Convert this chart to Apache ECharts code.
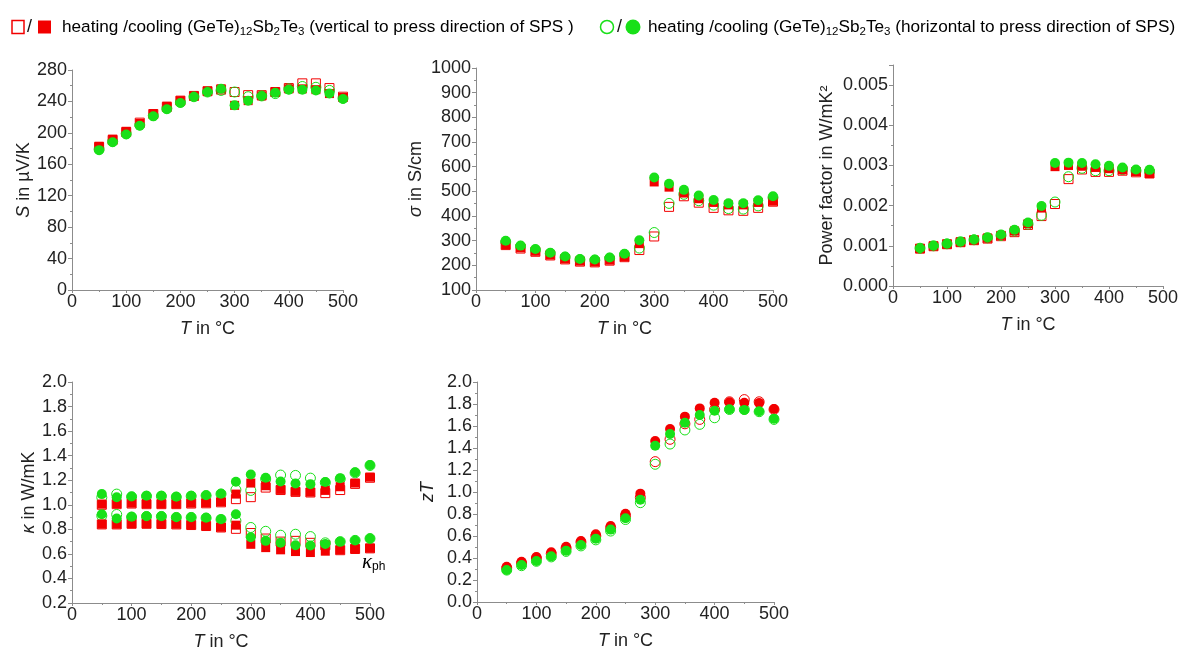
<!DOCTYPE html>
<html><head><meta charset="utf-8">
<script src="https://cdn.jsdelivr.net/npm/echarts@6/dist/echarts.min.js"></script>
<style>html,body{margin:0;padding:0;background:#fff}#c{width:1184px;height:653px}</style>
</head><body><div id="c"></div>
<script>
// Temperatures (°C)
const T_ALL = [50,75,100,125,150,175,200,225,250,275,300,325,350,375,400,425,450,475,500];
const T_PF  = [50,75,100,125,150,175,200,225,250,275,300,325,350,375,400,425,450,475];

// Seebeck coefficient S (µV/K)
const S_heatV = [182,191,201,213,224,233,241,247,253,255,252,248,248,252,257,263,263,257,246];
const S_coolV = [183,192,202,212,224,234,241,247,253,256,235,241,247,252,256,256,255,250,245];
const S_heatH = [179,189,199,210,222,231,239,246,252,254,252,246,247,250,256,259,258,254,244];
const S_coolH = [178,188,198,209,221,230,238,246,252,256,235,241,247,251,255,255,254,250,243];

// Electrical conductivity sigma (S/cm)
const sig_heatV = [282,268,255,240,224,215,212,219,233,262,317,437,480,454,433,423,421,433,458];
const sig_coolV = [284,271,257,242,226,217,214,221,235,288,538,517,493,470,455,445,445,455,460];
const sig_heatH = [295,277,262,248,233,223,221,229,243,270,333,451,488,462,444,430,428,441,475];
const sig_coolH = [300,280,266,251,236,226,224,232,247,302,556,531,506,483,465,452,452,464,480];

// Power factor (W/mK^2)
const PF_heatV = [0.00093,0.00099,0.00104,0.00109,0.00114,0.00118,0.00124,0.00134,0.00152,0.00174,0.00204,0.00266,0.00290,0.00284,0.00284,0.00287,0.00283,0.00280];
const PF_coolV = [0.00093,0.00099,0.00104,0.00109,0.00114,0.00119,0.00126,0.00137,0.00155,0.00194,0.00297,0.00300,0.00298,0.00295,0.00292,0.00289,0.00285,0.00280];
const PF_heatH = [0.00094,0.00100,0.00105,0.00110,0.00115,0.00120,0.00126,0.00137,0.00154,0.00176,0.00209,0.00272,0.00293,0.00287,0.00287,0.00290,0.00287,0.00285];
const PF_coolH = [0.00094,0.00100,0.00105,0.00110,0.00116,0.00121,0.00128,0.00140,0.00158,0.00199,0.00306,0.00307,0.00306,0.00303,0.00299,0.00295,0.00290,0.00289];

// Thermal conductivity kappa (W/mK), total
const k_heatV = [1.000,1.005,1.010,1.005,1.005,1.005,1.010,1.012,1.020,1.046,1.062,1.140,1.120,1.105,1.100,1.095,1.120,1.170,1.220];
const k_coolV = [1.005,1.010,1.013,1.010,1.008,1.008,1.013,1.016,1.024,1.087,1.177,1.155,1.125,1.109,1.103,1.117,1.147,1.177,1.225];
const k_heatH = [1.060,1.087,1.065,1.070,1.070,1.063,1.070,1.075,1.088,1.122,1.117,1.210,1.242,1.239,1.217,1.180,1.210,1.260,1.320];
const k_coolH = [1.087,1.062,1.068,1.073,1.073,1.065,1.073,1.078,1.090,1.188,1.247,1.220,1.190,1.174,1.168,1.185,1.217,1.264,1.323];
// lattice (phonon) part kappa_ph
const kph_heatV = [0.840,0.840,0.845,0.845,0.843,0.840,0.835,0.827,0.815,0.804,0.770,0.725,0.700,0.706,0.690,0.670,0.630,0.640,0.645];
const kph_coolV = [0.842,0.842,0.847,0.847,0.845,0.842,0.837,0.829,0.817,0.834,0.678,0.651,0.633,0.619,0.611,0.622,0.633,0.641,0.646];
const kph_heatH = [0.910,0.921,0.900,0.905,0.905,0.897,0.897,0.892,0.880,0.870,0.815,0.784,0.752,0.760,0.741,0.690,0.700,0.710,0.725];
const kph_coolH = [0.923,0.888,0.902,0.907,0.907,0.899,0.899,0.894,0.883,0.923,0.736,0.706,0.690,0.670,0.668,0.681,0.698,0.709,0.725];

// Figure of merit zT
const zT_heatV = [0.310,0.355,0.400,0.440,0.490,0.545,0.600,0.675,0.785,0.950,1.276,1.479,1.620,1.660,1.750,1.820,1.840,1.820,1.750];
const zT_coolV = [0.321,0.366,0.409,0.452,0.503,0.555,0.615,0.690,0.803,0.985,1.464,1.573,1.685,1.760,1.812,1.815,1.812,1.810,1.755];
const zT_heatH = [0.290,0.330,0.370,0.410,0.460,0.510,0.565,0.645,0.750,0.903,1.252,1.436,1.564,1.615,1.675,1.750,1.750,1.730,1.660];
const zT_coolH = [0.291,0.336,0.373,0.415,0.467,0.518,0.576,0.658,0.761,0.930,1.421,1.527,1.630,1.700,1.739,1.752,1.745,1.734,1.667];

const RED = '#f20000', GREEN = '#18e018';
const FONT = "'Liberation Sans', Arial, sans-serif";
const AX = '#8c8c8c', TXT = '#222';

const grids = [
  {left:72, top:70, width:271, height:220},
  {left:476, top:68, width:297, height:222},
  {left:893, top:65, width:270, height:221},
  {left:72, top:382, width:298, height:221},
  {left:477, top:382, width:297, height:220}
].map(g => Object.assign({containLabel:false, outerBoundsMode:'none'}, g));

const richName = {i:{fontStyle:'italic', fontSize:18, fontFamily:FONT, color:TXT}};
function xAx(i){
  return {type:'value', gridIndex:i, min:0, max:500, interval:100,
    name:'{i|T} in °C', nameLocation:'middle', nameGap:30,
    nameTextStyle:{fontSize:18, fontFamily:FONT, color:TXT, rich:richName},
    axisLine:{onZero:false, lineStyle:{color:AX, width:1}},
    axisTick:{show:true, inside:false, length:3, lineStyle:{color:AX}},
    minorTick:{show:true, splitNumber:2, length:2, lineStyle:{color:AX}},
    axisLabel:{fontSize:18, fontFamily:FONT, color:TXT, margin:3},
    splitLine:{show:false}};
}
function yAx(i, min, max, interval, name, gap, fmt){
  return {type:'value', gridIndex:i, min:min, max:max, interval:interval,
    name:name, nameLocation:'middle', nameGap:gap,
    nameTextStyle:{fontSize:18, fontFamily:FONT, color:TXT, rich:richName},
    axisLine:{onZero:false, lineStyle:{color:AX, width:1}},
    axisTick:{show:true, inside:false, length:4, lineStyle:{color:AX}},
    minorTick:{show:true, splitNumber:2, length:2, lineStyle:{color:AX}},
    axisLabel:{fontSize:18, fontFamily:FONT, color:TXT, margin:5, formatter:fmt, showMaxLabel: max === 0.0055 ? false : null},
    splitLine:{show:false}};
}

function sc(g, xs, ys, symbol, color, filled, size, z){
  return {type:'scatter', xAxisIndex:g, yAxisIndex:g, silent:true, z:z,
    data: xs.map((x,k)=>[x, ys[k]]), symbol:symbol, symbolSize:size,
    itemStyle: filled ? {color:color, opacity:1} : {color:'rgba(255,255,255,0)', borderColor:color, borderWidth:1, opacity:1}};
}
const SQ = 9, CI = 10;
function quad(g, xs, hv, cv, hh, ch, redSym){
  return [
    sc(g, xs, hv, redSym, RED, false, redSym==='rect'?SQ:CI, 2),
    sc(g, xs, hh, 'circle', GREEN, false, CI, 3),
    sc(g, xs, cv, redSym, RED, true, redSym==='rect'?SQ:CI, 4),
    sc(g, xs, ch, 'circle', GREEN, true, CI, 5)
  ];
}

const series = [].concat(
  quad(0, T_ALL, S_heatV, S_coolV, S_heatH, S_coolH, 'rect'),
  quad(1, T_ALL, sig_heatV, sig_coolV, sig_heatH, sig_coolH, 'rect'),
  quad(2, T_PF, PF_heatV, PF_coolV, PF_heatH, PF_coolH, 'rect'),
  quad(3, T_ALL, k_heatV, k_coolV, k_heatH, k_coolH, 'rect'),
  quad(3, T_ALL, kph_heatV, kph_coolV, kph_heatH, kph_coolH, 'rect'),
  quad(4, T_ALL, zT_heatV, zT_coolV, zT_heatH, zT_coolH, 'circle')
);

const legRich = {
  a:{fontSize:17.2, fontFamily:FONT, color:'#111', lineHeight:22, verticalAlign:'middle'},
  s:{fontSize:11.5, fontFamily:FONT, color:'#111', lineHeight:12, verticalAlign:'bottom'}
};
const leg1 = '{a|heating /cooling (GeTe)}{s|12}{a|Sb}{s|2}{a|Te}{s|3}{a| (vertical to press direction of SPS )}';
const leg2 = '{a|heating /cooling (GeTe)}{s|12}{a|Sb}{s|2}{a|Te}{s|3}{a| (horizontal to press direction of SPS)}';

const graphic = [
  {type:'rect', shape:{x:12, y:20.5, width:12, height:13}, style:{fill:'#fff', stroke:RED, lineWidth:1.5}},
  {type:'text', x:27, y:27, style:{text:'/', font:'18px '+FONT, fill:'#111', verticalAlign:'middle'}},
  {type:'rect', shape:{x:38, y:20.5, width:13, height:13}, style:{fill:RED}},
  {type:'text', x:62, y:27, style:{text:leg1, rich:legRich, verticalAlign:'middle'}},
  {type:'circle', shape:{cx:607, cy:27, r:6.5}, style:{fill:'#fff', stroke:GREEN, lineWidth:1.5}},
  {type:'text', x:617, y:27, style:{text:'/', font:'18px '+FONT, fill:'#111', verticalAlign:'middle'}},
  {type:'circle', shape:{cx:633, cy:27, r:7.5}, style:{fill:GREEN}},
  {type:'text', x:648, y:27, style:{text:leg2, rich:legRich, verticalAlign:'middle'}},
  {type:'text', x:362, y:562, style:{text:'{k|κ}{s|ph}', verticalAlign:'middle',
    rich:{k:{fontSize:21, fontStyle:'italic', fontFamily:"'Liberation Serif', serif", color:'#111', lineHeight:22, verticalAlign:'middle'},
          s:{fontSize:12, fontFamily:FONT, color:'#111', lineHeight:12, verticalAlign:'bottom'}}}}
];

const fmt0 = v => String(Math.round(v));
const fmt3 = v => v.toFixed(3);
const fmt1 = v => v.toFixed(1);

const chart = echarts.init(document.getElementById('c'), null, {renderer:'canvas'});
chart.setOption({
  animation:false,
  backgroundColor:'#fff',
  grid: grids,
  xAxis: [xAx(0), xAx(1), xAx(2), xAx(3), xAx(4)],
  yAxis: [
    yAx(0, 0, 280, 40, '{i|S} in µV/K', 39, fmt0),
    yAx(1, 100, 1000, 100, '{i|σ} in S/cm', 51, fmt0),
    yAx(2, 0, 0.0055, 0.001, 'Power factor in W/mK²', 57, fmt3),
    yAx(3, 0.2, 2.0, 0.2, '{i|κ} in W/mK', 34, fmt1),
    yAx(4, 0, 2.0, 0.2, '{i|zT}', 40, fmt1)
  ],
  series: series,
  graphic: graphic
});
</script>
</body></html>
